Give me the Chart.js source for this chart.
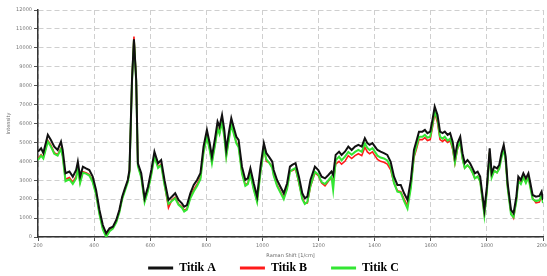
<!DOCTYPE html>
<html>
<head>
<meta charset="utf-8">
<script src="https://cdn.jsdelivr.net/npm/chart.js@4/dist/chart.umd.min.js"></script>
<style>
  body { margin: 0; background: #fff; }
  #graph { display: block; }
</style>
</head>
<body>
<canvas id="graph" width="547" height="276"></canvas>
<script>
// Raman shift positions (1/cm)
var shifts = [200,211,219,235,246,258,270,282,288,298,
  312,324,336,342,350,360,371,383,395,407,
  419,431,443,455,467,479,490,500,508,520,
  526,535,542,550,556,568,580,592,604,615,
  628,639,651,665,677,689,701,713,721,731,
  743,755,767,779,790,802,812,820,832,840,
  847,856,864,871,880,889,897,907,915,927,
  939,948,957,969,981,993,1005,1014,1023,1035,
  1040,1052,1064,1076,1088,1098,1106,1118,1130,1142,
  1151,1160,1171,1187,1199,1211,1223,1235,1246,1252,
  1261,1273,1282,1294,1306,1318,1330,1342,1354,1365,
  1374,1382,1392,1401,1410,1421,1433,1445,1457,1469,
  1481,1493,1505,1517,1529,1540,1550,1558,1570,1579,
  1588,1598,1606,1614,1624,1633,1642,1650,1660,1669,
  1678,1686,1695,1705,1713,1721,1731,1740,1749,1757,
  1767,1776,1785,1791,1800,1810,1817,1826,1836,1844,
  1852,1860,1867,1874,1886,1895,1905,1912,1921,1930,
  1939,1948,1955,1963,1975,1987,1995,2000]

var titikA = [4510,4690,4440,5400,5130,4780,4600,5040,4600,3370,
  3460,3190,3540,3980,3190,3720,3630,3540,3190,2490,
  1430,630,190,460,545,900,1430,2130,2490,3015,
  3540,8300,10450,8300,3900,3370,2050,2660,3540,4510,
  3900,4070,3000,1960,2130,2310,1960,1780,1600,1690,
  2310,2750,3015,3370,4780,5660,4960,4250,5300,6100,
  5830,6450,5660,4600,5490,6280,5830,5300,5130,3720,
  3015,3100,3630,2840,2130,3720,4960,4430,4250,3980,
  3540,3015,2660,2310,2840,3720,3810,3900,3190,2310,
  2050,2130,3015,3720,3540,3190,3100,3280,3460,3280,
  4340,4510,4340,4510,4780,4600,4780,4870,4780,5220,
  4960,4870,4960,4780,4600,4510,4430,4340,3980,3190,
  2750,2750,2310,1960,3015,4600,5130,5570,5570,5660,
  5490,5570,6190,6890,6450,5570,5490,5570,5400,5490,
  5040,4250,4960,5300,4430,3900,4070,3900,3630,3370,
  3460,3190,2130,1430,2660,4690,3370,3720,3630,3810,
  4430,4870,4250,2840,1430,1250,2130,3190,3015,3370,
  3100,3370,2840,2220,2130,2170,2400,1960]

var titikB = [4150,4350,4200,5100,4850,4450,4350,4700,4300,3050,
  3150,2900,3200,3700,2900,3450,3400,3300,2950,2300,
  1250,450,100,350,480,820,1350,2050,2400,2950,
  3450,8250,10600,8300,3800,3200,1900,2500,3350,4300,
  3700,3850,2800,1550,1950,2100,1750,1600,1400,1500,
  2100,2500,2800,3150,4500,5350,4650,4000,5000,5800,
  5500,6150,5350,4300,5150,6000,5550,5000,4800,3400,
  2750,2850,3350,2550,1900,3450,4700,4000,3950,3700,
  3300,2750,2400,2050,2600,3500,3500,3600,2850,2050,
  1800,1800,2650,3400,3250,2850,2700,2950,3150,2900,
  3850,4000,3850,4000,4300,4150,4300,4400,4300,4750,
  4500,4400,4500,4300,4100,4000,3950,3850,3550,2850,
  2450,2400,2000,1650,2700,4200,4700,5150,5150,5250,
  5100,5150,5800,6550,6050,5150,5050,5150,5000,5100,
  4650,3900,4650,5000,4150,3650,3800,3650,3400,3100,
  3200,2950,1900,1200,2450,4500,3200,3500,3400,3650,
  4250,4700,4050,2650,1250,1000,1950,3000,2850,3200,
  2900,3200,2650,2050,1800,1850,2150,1850]

var titikC = [4070,4300,4150,5050,4780,4400,4300,4650,4250,2950,
  3050,2800,3100,3650,2850,3400,3350,3250,2900,2250,
  1200,400,0,300,450,780,1300,2000,2350,2900,
  3400,8200,10400,8250,3750,3150,1850,2450,3300,4250,
  3650,3800,2750,1750,1900,2050,1700,1550,1350,1450,
  2050,2400,2700,3050,4450,5300,4600,3900,4950,5750,
  5450,6100,5300,4250,5100,5950,5500,4950,4750,3350,
  2700,2800,3300,2500,1850,3400,4650,4100,3950,3650,
  3250,2700,2350,2000,2550,3450,3550,3650,2900,2000,
  1750,1850,2700,3450,3300,2900,2800,3000,3200,2490,
  4050,4250,4050,4250,4500,4350,4500,4600,4500,4950,
  4700,4600,4700,4500,4300,4200,4150,4050,3700,2850,
  2400,2350,1900,1500,2600,4300,4850,5300,5300,5400,
  5250,5300,5950,6650,6200,5300,5200,5300,5100,5200,
  4750,3950,4700,5050,4150,3650,3800,3650,3400,3100,
  3200,2950,1900,1150,2400,4450,3150,3500,3400,3600,
  4200,4650,4000,2600,1200,1050,1900,2950,2800,3150,
  2850,3150,2600,2000,1900,1950,2200,1800]

var seriesNames = ['Titik A', 'Titik B', 'Titik C']
var seriesColors = ['#111111', '#ff1a1a', '#33e633']

var xTicks = [200, 400, 600, 800, 1000, 1200, 1400, 1600, 1800, 2000]

function toPoints(values) {
  return values.map(function (v, i) { return { x: shifts[i], y: v } })
}

var allValues = [titikA, titikB, titikC]
// draw order: A on top, then C, then B underneath
var drawOrder = [0, 2, 1]

var datasets = allValues.map(function (vals, i) {
  return {
    label: seriesNames[i],
    data: toPoints(vals),
    borderColor: seriesColors[i],
    backgroundColor: seriesColors[i],
    borderWidth: i === 1 ? 1.6 : 2,
    pointRadius: 0,
    tension: 0,
    order: drawOrder[i]
  }
})

var tickFont = { family: 'DejaVu Sans', size: 5 }
var legendPad = 24

// legend is kept short so the plot reaches down to the axis like the original,
// then its items are moved down to the bottom strip
var legendNudge = {
  id: 'legendNudge',
  afterLayout: function (c) {
    c.legend.top = c.height - 14 - legendPad
  }
}

var plainNum = function (v) { return String(v) }

var ctx = document.getElementById('graph').getContext('2d')
var chart = new Chart(ctx, {
  type: 'line',
  data: { datasets: datasets },
  plugins: [legendNudge],
  options: {
    responsive: false,
    animation: false,
    layout: { padding: { top: 10, right: 0, left: 0, bottom: 0 } },
    plugins: {
      tooltip: { enabled: false },
      legend: {
        position: 'bottom',
        maxHeight: 17,
        labels: {
          color: '#000',
          font: { family: 'Liberation Serif', size: 12, weight: 'bold' },
          usePointStyle: true,
          pointStyle: 'line',
          pointStyleWidth: 25,
          boxHeight: 12,
          padding: legendPad,
          sort: function (a, b) { return a.datasetIndex - b.datasetIndex },
          generateLabels: function (c) {
            var items = Chart.defaults.plugins.legend.labels.generateLabels(c)
            items.forEach(function (it) { it.lineWidth = 3; it.pointStyle = 'line' })
            return items
          }
        }
      }
    },
    scales: {
      x: {
        type: 'linear',
        min: 200,
        max: 2000,
        afterBuildTicks: function (s) { s.ticks = xTicks.map(function (v) { return { value: v } }) },
        grid: { color: '#cfcfcf', lineWidth: 1, tickLength: 4, tickColor: '#555' },
        border: { display: true, color: '#333', width: 1.5, dash: [5, 3] },
        ticks: { font: tickFont, color: '#777', padding: 2, maxRotation: 0, callback: plainNum },
        title: { display: true, text: 'Raman Shift [1/cm]', font: tickFont, color: '#666', padding: { top: 3, bottom: 0 } },
        afterFit: function (s) { s.height = 22; s.paddingRight = 4 }
      },
      y: {
        min: 0,
        max: 12000,
        ticks: { stepSize: 1000, font: tickFont, color: '#777', padding: 2, callback: plainNum },
        grid: { color: '#cfcfcf', lineWidth: 1, tickLength: 4, tickColor: '#555' },
        border: { display: true, color: '#333', width: 1.5, dash: [5, 3] },
        title: { display: true, text: 'Intensity', font: tickFont, color: '#666', padding: { top: 6, bottom: 0 } },
        afterFit: function (s) { s.width = 38 }
      }
    }
  }
})
</script>
</body>
</html>
